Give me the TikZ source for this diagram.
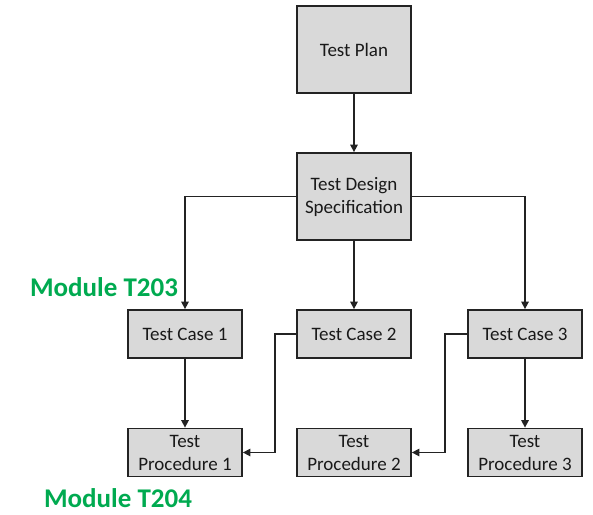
\documentclass[tikz,border=0pt]{standalone}
\usepackage{fontspec}
\setmainfont{Carlito}
\usetikzlibrary{arrows.meta}
\definecolor{boxfill}{RGB}{217,217,217}
\definecolor{edge}{RGB}{35,35,35}
\definecolor{modgreen}{RGB}{0,170,80}
\begin{document}
\begin{tikzpicture}[x=1pt,y=-1pt,
  box/.style={draw=edge,line width=1.8pt,fill=boxfill,minimum width=114pt,inner sep=0pt,align=center,text=black!90,font=\fontsize{19}{23}\selectfont},
  tall/.style={box,minimum height=87pt},
  short/.style={box,minimum height=48pt},
  conn/.style={draw=edge,line width=1.5pt,-{Triangle[width=7.5pt,length=7.5pt]}},
  modlabel/.style={text=modgreen,font=\fontsize{27}{30}\selectfont\bfseries,inner sep=0pt}]
\useasboundingbox (0,0) rectangle (593,514);
\node[tall] (plan) at (354,49.5) {Test Plan};
\node[tall] (tds) at (354,196.5) {Test Design\\Specification};
\node[short] (tc1) at (185,334) {Test Case 1};
\node[short] (tc2) at (354,334) {Test Case 2};
\node[short] (tc3) at (525,334) {Test Case 3};
\node[short] (p1) at (185,452.5) {Test\\Procedure 1};
\node[short] (p2) at (354,452.5) {Test\\Procedure 2};
\node[short] (p3) at (525,452.5) {Test\\Procedure 3};
\node[modlabel] (m203) at (104,287) {Module T203};
\node[modlabel] (m204) at (118,498) {Module T204};
\draw[conn] (plan) -- (tds);
\draw[conn] (tds.west) -| (tc1.north);
\draw[conn] (tds) -- (tc2);
\draw[conn] (tds.east) -| (tc3.north);
\draw[conn] (tc1) -- (p1);
\draw[conn] (tc3) -- (p3);
\draw[conn] (tc2.west) -- ++(-21,0) coordinate (k1) |- (p1.east);
\draw[conn] (tc3.west) -- ++(-22,0) coordinate (k2) |- (p2.east);
\end{tikzpicture}
\end{document}
